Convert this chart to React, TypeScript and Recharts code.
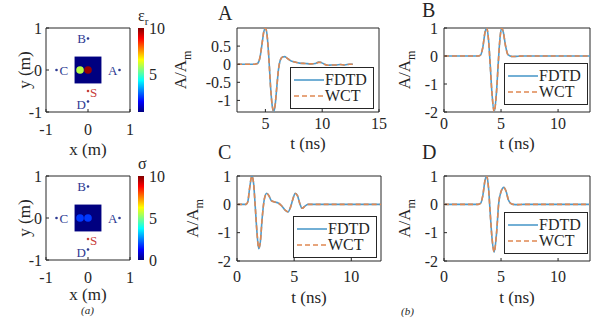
import React from "react";
import {
  LineChart,
  Line,
  XAxis,
  YAxis,
  ReferenceArea,
  Legend,
  ScatterChart,
  Scatter,
  BarChart,
  Bar,
} from "recharts";

const FONT = '"Liberation Serif", "DejaVu Serif", serif';
const INK = "#262626";
const FDTD_COLOR = "#4f9bcb";
const WCT_COLOR = "#df8852";
const RX_COLOR = "#2e3a92";
const SRC_COLOR = "#c8403a";

// ---- received waveforms (t in ns, amplitude / A_m) ----
const tA = [2.5, 4.0, 4.3, 4.5, 4.7, 4.85, 5.0, 5.15, 5.3, 5.45, 5.6, 5.72, 5.85, 6.0, 6.15, 6.3, 6.5, 6.7, 6.9, 7.2, 7.6, 8.0, 8.5, 9.0, 9.4, 9.7, 9.9, 10.2, 10.5, 10.8, 11.2, 11.6, 12.0, 12.4, 12.7];
const fdtdA = [0, 0, 0.02, 0.15, 0.55, 0.88, 1.0, 0.8, 0.2, -0.6, -1.15, -1.31, -1.15, -0.65, -0.15, 0.1, 0.2, 0.21, 0.17, 0.1, 0.06, 0.03, 0.02, 0.01, 0.02, 0.06, 0.05, 0.0, -0.03, -0.02, -0.02, -0.01, -0.02, 0.0, 0.0];
const wctA = [0, 0, 0.02, 0.16, 0.56, 0.89, 1.0, 0.79, 0.19, -0.61, -1.14, -1.29, -1.14, -0.64, -0.15, 0.1, 0.2, 0.21, 0.17, 0.1, 0.06, 0.03, 0.02, 0.01, 0.02, 0.05, 0.05, 0.0, -0.03, -0.02, -0.02, -0.01, -0.02, 0.0, 0.0];

const tB = [0, 3.0, 3.2, 3.4, 3.6, 3.75, 3.9, 4.05, 4.2, 4.4, 4.6, 4.75, 4.9, 5.05, 5.2, 5.4, 5.6, 5.8, 6.0, 6.5, 7.0, 12.8];
const fdtdB = [0, 0, 0.03, 0.3, 0.85, 1.0, 0.6, -0.3, -1.3, -2.0, -1.3, -0.3, 0.6, 1.0, 0.85, 0.35, 0.05, 0, -0.02, -0.01, 0, 0];
const wctB = [0, 0, 0.03, 0.31, 0.86, 1.0, 0.59, -0.31, -1.3, -1.99, -1.3, -0.31, 0.59, 1.0, 0.85, 0.35, 0.05, 0, -0.02, -0.01, 0, 0];

const tC = [0, 0.8, 0.95, 1.1, 1.3, 1.45, 1.6, 1.75, 1.9, 2.05, 2.2, 2.4, 2.6, 2.8, 3.0, 3.3, 3.6, 3.9, 4.2, 4.45, 4.7, 4.9, 5.1, 5.3, 5.5, 5.7, 5.9, 6.2, 12.6];
const fdtdC = [0, 0, 0.1, 0.55, 1.0, 0.75, -0.1, -1.0, -1.57, -1.3, -0.5, 0.2, 0.39, 0.3, 0.13, 0.08, 0.05, -0.05, -0.2, -0.27, -0.08, 0.2, 0.39, 0.3, 0.02, -0.14, -0.08, 0, 0];
const wctC = [0, 0, 0.1, 0.56, 1.0, 0.74, -0.11, -1.0, -1.55, -1.29, -0.5, 0.2, 0.39, 0.3, 0.13, 0.08, 0.05, -0.05, -0.2, -0.26, -0.08, 0.2, 0.38, 0.3, 0.02, -0.14, -0.08, 0, 0];

const tD = [0, 3.0, 3.2, 3.4, 3.6, 3.75, 3.9, 4.05, 4.2, 4.4, 4.6, 4.8, 5.0, 5.25, 5.45, 5.65, 5.85, 6.05, 6.5, 7.0, 12.8];
const fdtdD = [0, 0, 0.03, 0.3, 0.85, 1.0, 0.6, -0.3, -1.15, -1.69, -1.05, 0.05, 0.45, 0.6, 0.45, 0.15, 0.03, 0, -0.01, 0, 0];
const wctD = [0, 0, 0.03, 0.31, 0.86, 1.0, 0.59, -0.31, -1.15, -1.68, -1.05, 0.05, 0.45, 0.6, 0.45, 0.15, 0.03, 0, -0.01, 0, 0];

const xTicksA = [5, 10, 15];
const xTicksBCD = [0, 5, 10];
const yTicksA = [-1, -0.5, 0, 0.5];
const yTicksBCD = [-2, -1, 0, 1];

const legendItems = [
  { name: "FDTD", color: FDTD_COLOR, dash: undefined as string | undefined },
  { name: "WCT", color: WCT_COLOR, dash: "5 3" },
];

// ---- geometry panels ----
const mapTicks = [-1, 0, 1];
const scattererHalf = 0.32;
const antennas = [
  { x: 0.75, y: 0, name: "A" },
  { x: 0, y: 0.75, name: "B" },
  { x: -0.75, y: 0, name: "C" },
  { x: 0, y: -0.75, name: "D" },
  { x: 0, y: -0.5, name: "S" },
];
const inclusionX = [-0.19, 0];
const epsInclusions = [6, 9.8];
const sigmaInclusions = [1.8, 1.8];
const epsBackground = 1;
const sigmaBackground = 0;
const epsRange: [number, number] = [1, 10];
const epsTicks = [5, 10];
const sigmaRange: [number, number] = [0, 10];
const sigmaTicks = [0, 5, 10];

const TICK = { fill: INK, fontSize: 16, fontFamily: FONT };

function jet(t: number) {
  const c = (v: number) => Math.round(255 * Math.max(0, Math.min(1, v)));
  const r = c(1.5 - Math.abs(4 * t - 3));
  const g = c(1.5 - Math.abs(4 * t - 2));
  const b = c(1.5 - Math.abs(4 * t - 1));
  return `rgb(${r},${g},${b})`;
}

type Plot = { x: number; y: number; w: number; h: number };
type WaveSpec = {
  title: string;
  t: number[];
  fdtd: number[];
  wct: number[];
  xDomain: [number, number];
  xTicks: number[];
  yDomain: [number, number];
  yTicks: number[];
  plot: Plot;
  titleDx: number;
  titleDy: number;
  yLabelDx: number;
  xLabelDy: number;
  xTickGap: number;
  legend: { x: number; y: number };
};

const M_TOP = 40;
const M_RIGHT = 10;
const Y_W = 70;
const X_H = 52;
const LEG_W = 84;
const LEG_H = 42;

function WaveLegend() {
  return (
    <div
      style={{
        width: LEG_W,
        height: LEG_H,
        boxSizing: "border-box",
        border: `1.3px solid ${INK}`,
        background: "#fff",
        padding: "4px 0 0 3px",
        fontFamily: FONT,
        fontSize: 16,
        lineHeight: "16px",
        color: INK,
      }}
    >
      {legendItems.map((it) => (
        <div key={it.name} style={{ display: "flex", alignItems: "center", height: 16 }}>
          <svg width={30} height={8} style={{ marginRight: 1 }}>
            <line x1={0} x2={30} y1={4} y2={4} stroke={it.color} strokeWidth={1.6} strokeDasharray={it.dash} />
          </svg>
          <span>{it.name}</span>
        </div>
      ))}
    </div>
  );
}

function WavePanel({ s }: { s: WaveSpec }) {
  const data = s.t.map((t, i) => ({ t, fdtd: s.fdtd[i], wct: s.wct[i] }));
  return (
    <div style={{ position: "absolute", left: s.plot.x - Y_W, top: s.plot.y - M_TOP }}>
      <LineChart
        width={Y_W + s.plot.w + M_RIGHT}
        height={M_TOP + s.plot.h + X_H}
        data={data}
        margin={{ top: M_TOP, right: M_RIGHT, left: 0, bottom: 0 }}
      >
        <XAxis
          dataKey="t"
          type="number"
          domain={s.xDomain}
          ticks={s.xTicks}
          interval={0}
          allowDataOverflow
          height={X_H}
          axisLine={false}
          tickSize={-3}
          tickMargin={s.xTickGap}
          tickLine={{ stroke: INK }}
          tick={TICK}
          label={(p: any) => (
            <text
              x={p.viewBox.x + p.viewBox.width / 2}
              y={p.viewBox.y + s.xLabelDy}
              textAnchor="middle"
              fontFamily={FONT}
              fontSize={17}
              fill={INK}
            >
              t (ns)
            </text>
          )}
        />
        <XAxis
          xAxisId="top"
          orientation="top"
          type="number"
          domain={s.xDomain}
          ticks={s.xTicks}
          interval={0}
          height={0}
          axisLine={false}
          tickSize={-3}
          tickLine={{ stroke: INK }}
          tick={false}
        />
        <YAxis
          type="number"
          domain={s.yDomain}
          ticks={s.yTicks}
          interval={0}
          allowDataOverflow
          width={Y_W}
          axisLine={false}
          tickSize={-3}
          tickMargin={9}
          tickLine={{ stroke: INK }}
          tick={TICK}
          label={(p: any) => {
            const right = p.viewBox.x + p.viewBox.width;
            const x = right - s.yLabelDx;
            const y = p.viewBox.y + p.viewBox.height / 2;
            return (
              <g>
                <text x={right - s.titleDx} y={p.viewBox.y - s.titleDy} fontFamily={FONT} fontSize={20} fill={INK}>
                  {s.title}
                </text>
                <text
                  x={x}
                  y={y}
                  transform={`rotate(-90, ${x}, ${y})`}
                  textAnchor="middle"
                  fontFamily={FONT}
                  fontSize={17}
                  fill={INK}
                >
                  A/A
                  <tspan dy={5} fontSize={12}>
                    m
                  </tspan>
                </text>
              </g>
            );
          }}
        />
        <YAxis
          yAxisId="right"
          orientation="right"
          type="number"
          domain={s.yDomain}
          ticks={s.yTicks}
          interval={0}
          width={0}
          axisLine={false}
          tickSize={-3}
          tickLine={{ stroke: INK }}
          tick={false}
        />
        <ReferenceArea
          x1={s.xDomain[0]}
          x2={s.xDomain[1]}
          y1={s.yDomain[0]}
          y2={s.yDomain[1]}
          fill="none"
          stroke={INK}
          strokeWidth={1}
        />
        <Line dataKey="fdtd" type="monotone" stroke={FDTD_COLOR} strokeWidth={1.6} dot={false} isAnimationActive={false} />
        <Line
          dataKey="wct"
          type="monotone"
          stroke={WCT_COLOR}
          strokeWidth={1.6}
          strokeDasharray="5 3"
          dot={false}
          isAnimationActive={false}
        />
        <Legend
          layout="vertical"
          align="center"
          verticalAlign="middle"
          content={() => <WaveLegend />}
          wrapperStyle={{ left: Y_W + s.legend.x, top: M_TOP + s.legend.y, width: LEG_W, height: LEG_H }}
        />
      </LineChart>
    </div>
  );
}

const LABEL_OFFSET: Record<string, [number, number, "start" | "end"]> = {
  A: [-2, 4.5, "end"],
  B: [-2, 4.5, "end"],
  C: [3, 4.5, "start"],
  D: [-2, 7, "end"],
  S: [2, 6, "start"],
};

function AntennaMark(props: any) {
  const { cx, cy, payload } = props;
  const [dx, dy, anchor] = LABEL_OFFSET[payload.name];
  const color = payload.name === "S" ? SRC_COLOR : RX_COLOR;
  return (
    <g>
      <circle cx={cx} cy={cy} r={1.3} fill={color} />
      <text x={cx + dx} y={cy + dy} textAnchor={anchor} fontFamily={FONT} fontSize={13} fill={color}>
        {payload.name}
      </text>
    </g>
  );
}

function GeometryMap(props: {
  top: number;
  values: number[];
  background: number;
  range: [number, number];
  xLabelDy: number;
}) {
  const { top, values, background, range, xLabelDy } = props;
  const norm = (v: number) => (v - range[0]) / (range[1] - range[0]);
  const inclusions = inclusionX.map((x, i) => ({ x, y: 0, v: values[i] }));
  const MT = 10;
  const MR = 4;
  const YW = 46;
  const XH = 50;
  const PW = 84;
  const PH = 84;
  return (
    <div style={{ position: "absolute", left: 46 - YW, top: top - MT }}>
      <ScatterChart width={YW + PW + MR} height={MT + PH + XH} margin={{ top: MT, right: MR, left: 0, bottom: 0 }}>
        <XAxis
          dataKey="x"
          type="number"
          domain={[-1, 1]}
          ticks={mapTicks}
          interval={0}
          allowDataOverflow
          height={XH}
          axisLine={false}
          tickSize={-3}
          tickMargin={15}
          tickLine={{ stroke: INK }}
          tick={TICK}
          label={(p: any) => (
            <text
              x={p.viewBox.x + p.viewBox.width / 2}
              y={p.viewBox.y + xLabelDy}
              textAnchor="middle"
              fontFamily={FONT}
              fontSize={17}
              fill={INK}
            >
              x (m)
            </text>
          )}
        />
        <XAxis
          xAxisId="top"
          orientation="top"
          type="number"
          domain={[-1, 1]}
          ticks={mapTicks}
          interval={0}
          height={0}
          axisLine={false}
          tickSize={-3}
          tickLine={{ stroke: INK }}
          tick={false}
        />
        <YAxis
          dataKey="y"
          type="number"
          domain={[-1, 1]}
          ticks={mapTicks}
          interval={0}
          allowDataOverflow
          width={YW}
          axisLine={false}
          tickSize={-3}
          tickMargin={7}
          tickLine={{ stroke: INK }}
          tick={TICK}
          label={(p: any) => {
            const x = p.viewBox.x + 30;
            const y = p.viewBox.y + p.viewBox.height / 2;
            return (
              <text
                x={x}
                y={y}
                transform={`rotate(-90, ${x}, ${y})`}
                textAnchor="middle"
                fontFamily={FONT}
                fontSize={17}
                fill={INK}
              >
                y (m)
              </text>
            );
          }}
        />
        <YAxis
          yAxisId="right"
          orientation="right"
          type="number"
          domain={[-1, 1]}
          ticks={mapTicks}
          interval={0}
          width={0}
          axisLine={false}
          tickSize={-3}
          tickLine={{ stroke: INK }}
          tick={false}
        />
        <ReferenceArea
          x1={-scattererHalf}
          x2={scattererHalf}
          y1={-scattererHalf}
          y2={scattererHalf}
          fill={jet(norm(background))}
          fillOpacity={1}
        />
        <Scatter
          data={inclusions}
          isAnimationActive={false}
          shape={(p: any) => <circle cx={p.cx} cy={p.cy} r={3.8} fill={jet(norm(p.payload.v))} />}
        />
        <Scatter data={antennas} isAnimationActive={false} shape={(p: any) => <AntennaMark {...p} />} />
        <ReferenceArea x1={-1} x2={1} y1={-1} y2={1} fill="none" stroke={INK} strokeWidth={1} />
      </ScatterChart>
    </div>
  );
}

function Colorbar(props: { top: number; range: [number, number]; ticks: number[]; id: string; title: React.ReactNode }) {
  const { top, range, ticks, id, title } = props;
  const stops = [0, 1, 2, 3, 4, 5, 6, 7, 8].map((i) => i / 8);
  const MT = 20;
  const MB = 12;
  const data = [{ name: id, span: range }];
  return (
    <div style={{ position: "absolute", left: 138, top: top - MT }}>
      <BarChart
        width={6 + 30}
        height={MT + 84 + MB}
        data={data}
        barCategoryGap={0}
        margin={{ top: MT, right: 0, left: 0, bottom: MB }}
      >
        <defs>
          <linearGradient id={id} x1="0" y1="1" x2="0" y2="0">
            {stops.map((t) => (
              <stop key={t} offset={t} stopColor={jet(t)} />
            ))}
          </linearGradient>
        </defs>
        <XAxis dataKey="name" hide />
        <YAxis
          orientation="right"
          type="number"
          domain={range}
          ticks={ticks}
          interval={0}
          allowDataOverflow
          width={30}
          axisLine={false}
          tickLine={false}
          tickSize={0}
          tickMargin={5}
          tick={TICK}
          label={(p: any) => (
            <text x={p.viewBox.x - 6} y={p.viewBox.y - 7} fontFamily={FONT} fontSize={16} fill={INK}>
              {title}
            </text>
          )}
        />
        <Bar dataKey="span" fill={`url(#${id})`} isAnimationActive={false} />
      </BarChart>
    </div>
  );
}

const panels: WaveSpec[] = [
  {
    title: "A",
    t: tA,
    fdtd: fdtdA,
    wct: wctA,
    xDomain: [2.5, 15],
    xTicks: xTicksA,
    yDomain: [-1.32, 1],
    yTicks: yTicksA,
    plot: { x: 237, y: 28, w: 142, h: 84 },
    titleDx: 19,
    titleDy: 8,
    yLabelDx: 51,
    xLabelDy: 37,
    xTickGap: 9,
    legend: { x: 53, y: 39 },
  },
  {
    title: "B",
    t: tB,
    fdtd: fdtdB,
    wct: wctB,
    xDomain: [0, 12.8],
    xTicks: xTicksBCD,
    yDomain: [-2, 1],
    yTicks: yTicksBCD,
    plot: { x: 444, y: 28, w: 146, h: 84 },
    titleDx: 22,
    titleDy: 11,
    yLabelDx: 34,
    xLabelDy: 37,
    xTickGap: 9,
    legend: { x: 60, y: 35 },
  },
  {
    title: "C",
    t: tC,
    fdtd: fdtdC,
    wct: wctC,
    xDomain: [0, 12.6],
    xTicks: xTicksBCD,
    yDomain: [-2, 1],
    yTicks: yTicksBCD,
    plot: { x: 237, y: 176, w: 144, h: 85 },
    titleDx: 19,
    titleDy: 17,
    yLabelDx: 39,
    xLabelDy: 42,
    xTickGap: 13,
    legend: { x: 56, y: 40 },
  },
  {
    title: "D",
    t: tD,
    fdtd: fdtdD,
    wct: wctD,
    xDomain: [0, 12.8],
    xTicks: xTicksBCD,
    yDomain: [-2, 1],
    yTicks: yTicksBCD,
    plot: { x: 444, y: 176, w: 146, h: 85 },
    titleDx: 22,
    titleDy: 17,
    yLabelDx: 34,
    xLabelDy: 42,
    xTickGap: 13,
    legend: { x: 60, y: 36 },
  },
];

export default function App() {
  return (
    <div
      style={{
        position: "absolute",
        left: 0,
        top: 0,
        width: 601,
        height: 330,
        background: "#fff",
        overflow: "hidden",
        fontFamily: FONT,
      }}
    >
      <GeometryMap top={28} values={epsInclusions} background={epsBackground} range={epsRange} xLabelDy={43} />
      <Colorbar
        top={28}
        range={epsRange}
        ticks={epsTicks}
        id="jetEps"
        title={
          <>
            ε<tspan dy={4} fontSize={11}>r</tspan>
          </>
        }
      />
      <GeometryMap top={176} values={sigmaInclusions} background={sigmaBackground} range={sigmaRange} xLabelDy={40} />
      <Colorbar top={176} range={sigmaRange} ticks={sigmaTicks} id="jetSigma" title="σ" />
      {panels.map((p) => (
        <WavePanel key={p.title} s={p} />
      ))}
      <div style={{ position: "absolute", left: 81, top: 304, fontSize: 11, lineHeight: "12px", fontStyle: "italic", color: INK }}>
        (a)
      </div>
      <div style={{ position: "absolute", left: 401, top: 305, fontSize: 11, lineHeight: "12px", fontStyle: "italic", color: INK }}>
        (b)
      </div>
    </div>
  );
}
